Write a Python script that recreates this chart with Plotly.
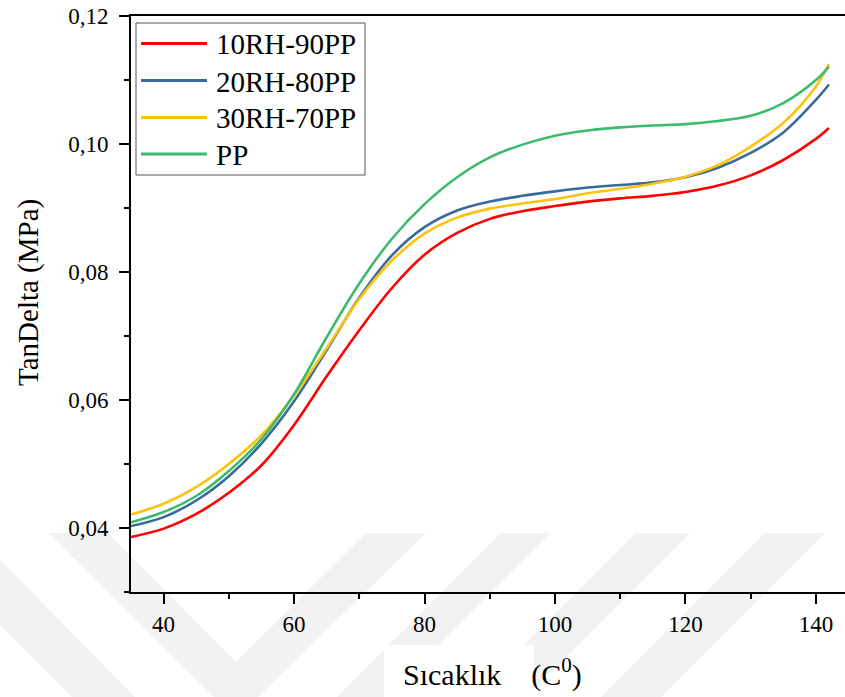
import plotly.graph_objects as go

# Temperature (°C) and tan delta readings for each blend
temperature = [35, 40, 45, 50, 55, 60, 65, 70, 75, 80, 85, 90, 95, 100,
               105, 110, 115, 120, 125, 130, 135, 140, 142]

tan_10rh_90pp = [0.0386, 0.0399, 0.0422, 0.0455, 0.0498, 0.0561, 0.0637, 0.0709,
                 0.0775, 0.0827, 0.0861, 0.0883, 0.0895, 0.0903, 0.0910, 0.0915,
                 0.0919, 0.0925, 0.0935, 0.0951, 0.0975, 0.1008, 0.1025]

tan_20rh_80pp = [0.0403, 0.0417, 0.0443, 0.0481, 0.0532, 0.0598, 0.0678, 0.0760,
                 0.0826, 0.0870, 0.0896, 0.0910, 0.0919, 0.0926, 0.0932, 0.0936,
                 0.0940, 0.0948, 0.0963, 0.0986, 0.1018, 0.1069, 0.1093]

tan_30rh_70pp = [0.0421, 0.0438, 0.0464, 0.0500, 0.0545, 0.0607, 0.0681, 0.0758,
                 0.0818, 0.0860, 0.0885, 0.0899, 0.0907, 0.0914, 0.0923, 0.0930,
                 0.0938, 0.0949, 0.0967, 0.0996, 0.1033, 0.1090, 0.1125]

tan_pp = [0.0409, 0.0425, 0.0450, 0.0489, 0.0539, 0.0609, 0.0698, 0.0782,
          0.0852, 0.0906, 0.0948, 0.0979, 0.0999, 0.1013, 0.1021, 0.1026,
          0.1029, 0.1031, 0.1036, 0.1044, 0.1064, 0.1100, 0.1121]

series_names = ["10RH-90PP", "20RH-80PP", "30RH-70PP", "PP"]
series_values = [tan_10rh_90pp, tan_20rh_80pp, tan_30rh_70pp, tan_pp]
series_colors = ["#ff0000", "#386a9c", "#ffc20a", "#3dbb6c"]

FONT = "Liberation Serif, 'Times New Roman', serif"

# plot area in pixels (left, right, top, bottom)
L, R, T, B = 131, 845, 16, 592


def to_paper(px, py):
    return (px - L) / (R - L), (B - py) / (B - T)


def poly_path(points):
    pts = [to_paper(px, py) for px, py in points]
    return "M " + " L ".join(f"{x:.4f},{y:.4f}" for x, y in pts) + " Z"


fig = go.Figure()
for name, vals, col in zip(series_names, series_values, series_colors):
    fig.add_trace(go.Scatter(
        x=temperature, y=vals, name=name, mode="lines", showlegend=False,
        line=dict(color=col, width=2.6, shape="spline", smoothing=1.0),
    ))

# faint background emblem
emblem = [
    [(0, 560), (0, 625), (72, 697), (135, 697)],
    [(48, 533), (108, 533), (236, 662), (366, 533), (426, 533), (258, 697), (214, 697)],
    [(501, 533), (550, 533), (386, 697), (337, 697)],
    [(636, 533), (690, 533), (526, 697), (472, 697)],
    [(765, 533), (825, 533), (661, 697), (601, 697)],
]
shapes = [dict(type="path", xref="paper", yref="paper", path=poly_path(p),
               fillcolor="#f2f2f2", line=dict(width=0), layer="below") for p in emblem]
x0, y0 = to_paper(384, 697)
x1, y1 = to_paper(534, 645)
shapes.append(dict(type="rect", xref="paper", yref="paper", x0=x0, y0=y0, x1=x1, y1=y1,
                   fillcolor="white", line=dict(width=0), layer="below"))

# legend box with sample lines and labels
bx0, by0 = to_paper(136, 175)
bx1, by1 = to_paper(365, 23)
shapes.append(dict(type="rect", xref="paper", yref="paper", x0=bx0, y0=by0, x1=bx1, y1=by1,
                   fillcolor="white", line=dict(color="#555555", width=1), layer="above"))
row_y = [43.5, 80.5, 117.5, 154]
annotations = []
for ry, name, col in zip(row_y, series_names, series_colors):
    lx0, ly = to_paper(141, ry)
    lx1, _ = to_paper(207, ry)
    shapes.append(dict(type="line", xref="paper", yref="paper", x0=lx0, y0=ly, x1=lx1, y1=ly,
                       line=dict(color=col, width=3), layer="above"))
    tx, _ = to_paper(214, ry)
    _, ty = to_paper(0, ry + 1)
    annotations.append(dict(text=name, xref="paper", yref="paper", x=tx, y=ty,
                            xanchor="left", yanchor="middle", showarrow=False,
                            font=dict(family=FONT, size=29, color="black")))

axis_common = dict(
    showline=True, linewidth=2, linecolor="black", showgrid=False, zeroline=False,
    ticks="outside", ticklen=10, tickwidth=2, tickcolor="black",
    tickfont=dict(family=FONT, size=23, color="black"),
)

fig.update_layout(
    width=845, height=697,
    margin=dict(l=L, r=845 - R, t=T, b=697 - B),
    paper_bgcolor="white", plot_bgcolor="rgba(0,0,0,0)",
    separators=", ",
    showlegend=False,
    xaxis=dict(range=[35, 35 + (R - L) / 6.523], tick0=40, dtick=20, mirror=True,
               minor=dict(ticks="outside", ticklen=5, tickwidth=1.5, dtick=10, tickcolor="black"),
               **axis_common),
    yaxis=dict(range=[0.03, 0.12], tick0=0.04, dtick=0.02, tickformat=".2f",
               ticklabelstandoff=6,
               minor=dict(ticks="outside", ticklen=5, tickwidth=1.5, dtick=0.01, tickcolor="black"),
               **axis_common),
    shapes=shapes,
    annotations=annotations,
)

tx, ty = to_paper(28, 293)
fig.add_annotation(text="TanDelta (MPa)", xref="paper", yref="paper", x=tx, y=ty,
                   textangle=-90, xanchor="center", yanchor="middle", showarrow=False,
                   font=dict(family=FONT, size=29, color="black"))
tx, ty = to_paper(492, 672)
fig.add_annotation(text="Sıcaklık\u00a0\u00a0\u00a0\u00a0(C<sup>0</sup>)", xref="paper", yref="paper",
                   x=tx, y=ty, xanchor="center", yanchor="middle", showarrow=False,
                   font=dict(family=FONT, size=30, color="black"))

fig.write_html("out.html")
